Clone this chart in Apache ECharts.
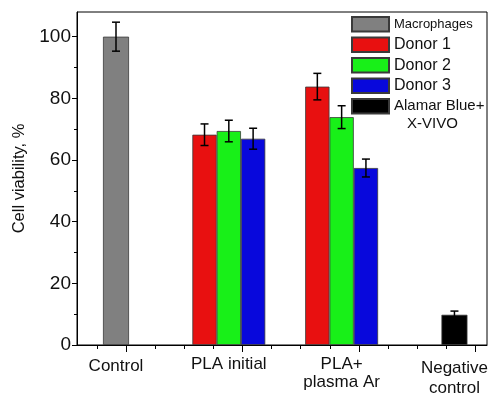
<!DOCTYPE html>
<html>
<head>
<meta charset="utf-8">
<script src="https://cdn.jsdelivr.net/npm/echarts@6/dist/echarts.min.js"></script>
<style>html,body{margin:0;padding:0;background:#fff;}#c{width:491px;height:398px;}</style>
</head>
<body>
<div id="c"></div>
<script>
// ---- data ----
const categories = ['Control', 'PLA initial', 'PLA+\nplasma Ar', 'Negative\ncontrol'];
const macrophages = [100, null, null, null];
const macrophagesErr = [4.7, null, null, null];
const donor1 = [null, 68.2, 83.8, null];
const donor1Err = [null, 3.5, 4.3, null];
const donor2 = [null, 69.4, 73.9, null];
const donor2Err = [null, 3.5, 3.7, null];
const donor3 = [null, 66.9, 57.4, null];
const donor3Err = [null, 3.4, 2.9, null];
const alamar = [null, null, null, 9.8];
const alamarErr = [null, null, null, 1.2];
const yTicks = [0, 20, 40, 60, 80, 100];
const yMinorTicks = [10, 30, 50, 70, 90];
const xMinorTicks = [0, 1, 2, 3, 4, 5, 6, 7, 8, 9, 10, 11, 12, 13];
const xMajorTicks = [1, 5, 9, 13];

const chart = echarts.init(document.getElementById('c'), null, {renderer: 'canvas'});
const barW = 24.3;
const YMAX = 108;
const txt = '#111';

function toSeriesData(arr) { return arr.map(v => v == null ? '-' : v); }
function errData(vals, errs) {
  const out = [];
  vals.forEach((v, i) => { if (v != null) out.push([i, v, errs[i]]); });
  return out;
}
function errSeries(name, vals, errs, xIdx, offset) {
  return {
    type: 'custom', name: name + ' err', xAxisIndex: xIdx, yAxisIndex: 2, z: 10,
    data: errData(vals, errs),
    renderItem: function (params, api) {
      const i = api.value(0), v = api.value(1), e = api.value(2);
      const top = api.coord([i, v + e]);
      const bot = api.coord([i, v - e]);
      const x = top[0] + offset;
      const cap = 4;
      const st = {stroke: '#000', lineWidth: 1.5};
      return {type: 'group', children: [
        {type: 'line', shape: {x1: x, y1: top[1], x2: x, y2: bot[1]}, style: st},
        {type: 'line', shape: {x1: x - cap, y1: top[1], x2: x + cap, y2: top[1]}, style: st},
        {type: 'line', shape: {x1: x - cap, y1: bot[1], x2: x + cap, y2: bot[1]}, style: st}
      ]};
    }
  };
}
const border = {borderColor: '#3a3a3a', borderWidth: 0.8};

const option = {
  animation: false,
  backgroundColor: '#fff',
  title: {text: 'X-VIVO', left: 407, top: 116, padding: 0,
    textStyle: {fontFamily: 'Liberation Sans', fontSize: 15, fontWeight: 'normal', color: txt}},
  legend: {
    orient: 'vertical', left: 351, top: 16, itemWidth: 37, itemHeight: 14.5, itemGap: 4, padding: 0,
    icon: 'rect',
    data: ['Macrophages', 'Donor 1', 'Donor 2', 'Donor 3', 'Alamar Blue+'],
    formatter: function (n) {
      if (n === 'Macrophages') return '{s|' + n + '}';
      if (n === 'Alamar Blue+') return '{a|' + n + '}';
      return '{m|' + n + '}';
    },
    textStyle: {fontFamily: 'Liberation Sans', color: txt, rich: {
      s: {fontSize: 13, lineHeight: 16, fontFamily: 'Liberation Sans', color: txt},
      m: {fontSize: 16, lineHeight: 16, fontFamily: 'Liberation Sans', color: txt},
      a: {fontSize: 15, lineHeight: 16, fontFamily: 'Liberation Sans', color: txt}
    }}
  },
  grid: [
    {left: 77, right: 4, top: 12, bottom: 53, show: true, borderColor: '#000', borderWidth: 1, backgroundColor: 'transparent'},
    {left: 116, right: 34, top: 12, bottom: 53}
  ],
  xAxis: [
    {type: 'value', gridIndex: 0, position: 'bottom', min: -0.7, max: 13.41,
      axisLine: {show: true, onZero: false, lineStyle: {color: '#000', width: 1}},
      axisTick: {show: true, length: 4, customValues: xMinorTicks, lineStyle: {color: '#000'}},
      axisLabel: {show: false}, splitLine: {show: false}},
    {type: 'value', gridIndex: 0, position: 'bottom', min: -0.7, max: 13.41,
      axisLine: {show: false, onZero: false},
      axisTick: {show: true, length: 7, customValues: xMajorTicks, lineStyle: {color: '#000'}},
      axisLabel: {show: false}, splitLine: {show: false}},
    {type: 'category', gridIndex: 1, position: 'bottom', data: categories, boundaryGap: false,
      axisLine: {show: false, onZero: false}, axisTick: {show: false}, splitLine: {show: false},
      axisLabel: {interval: 0, hideOverlap: false, margin: 10, fontFamily: 'Liberation Sans', fontSize: 17, color: txt, lineHeight: 18,
        formatter: function (v) {
          if (v === 'Control') return '{c|' + v + '}';
          if (v.indexOf('Negative') === 0) return '{n|' + v.split('\n').join('}\n{n|') + '}';
          return v;
        },
        rich: {
          c: {fontFamily: 'Liberation Sans', fontSize: 17, color: txt, lineHeight: 18, padding: [4, 0, 0, 0]},
          n: {fontFamily: 'Liberation Sans', fontSize: 17, color: txt, lineHeight: 20, padding: [6, 0, 0, 0]}
        }}},
    {type: 'category', gridIndex: 1, position: 'bottom', data: categories, boundaryGap: false, show: false, axisLine: {onZero: false}}
  ],
  yAxis: [
    {type: 'value', gridIndex: 0, position: 'left', min: 0, max: YMAX,
      axisLine: {show: true, onZero: false, lineStyle: {color: '#000', width: 1}},
      axisTick: {show: true, length: 5, customValues: yTicks, lineStyle: {color: '#000'}},
      axisLabel: {customValues: yTicks, margin: 6, fontFamily: 'Liberation Sans', fontSize: 19, color: txt},
      splitLine: {show: false},
      name: 'Cell viability, %', nameLocation: 'middle', nameGap: 48,
      nameTextStyle: {fontFamily: 'Liberation Sans', fontSize: 16.5, color: txt}},
    {type: 'value', gridIndex: 0, position: 'left', min: 0, max: YMAX,
      axisLine: {show: false, onZero: false},
      axisTick: {show: true, length: 3, customValues: yMinorTicks, lineStyle: {color: '#000'}},
      axisLabel: {show: false}, splitLine: {show: false}},
    {type: 'value', gridIndex: 1, position: 'left', min: 0, max: YMAX, show: false, splitLine: {show: false}, axisLine: {onZero: false}}
  ],
  series: [
    {type: 'bar', name: 'Macrophages', xAxisIndex: 3, yAxisIndex: 2, stack: 'single', barWidth: 26,
      data: toSeriesData(macrophages), itemStyle: Object.assign({color: '#808080'}, border)},
    {type: 'bar', name: 'Alamar Blue+', xAxisIndex: 3, yAxisIndex: 2, stack: 'single', barWidth: 26,
      data: toSeriesData(alamar), itemStyle: Object.assign({color: '#000000'}, border)},
    {type: 'bar', name: 'Donor 1', xAxisIndex: 2, yAxisIndex: 2, barWidth: barW, barGap: '0%',
      data: toSeriesData(donor1), itemStyle: Object.assign({color: '#e81010'}, border)},
    {type: 'bar', name: 'Donor 2', xAxisIndex: 2, yAxisIndex: 2, barWidth: barW, barGap: '0%',
      data: toSeriesData(donor2), itemStyle: Object.assign({color: '#18f018'}, border)},
    {type: 'bar', name: 'Donor 3', xAxisIndex: 2, yAxisIndex: 2, barWidth: barW, barGap: '0%',
      data: toSeriesData(donor3), itemStyle: Object.assign({color: '#0808dc'}, border)},
    errSeries('Macrophages', macrophages, macrophagesErr, 3, 0),
    errSeries('Alamar Blue+', alamar, alamarErr, 3, 0),
    errSeries('Donor 1', donor1, donor1Err, 2, -barW),
    errSeries('Donor 2', donor2, donor2Err, 2, 0),
    errSeries('Donor 3', donor3, donor3Err, 2, barW)
  ]
};
chart.setOption(option);
</script>
</body>
</html>
